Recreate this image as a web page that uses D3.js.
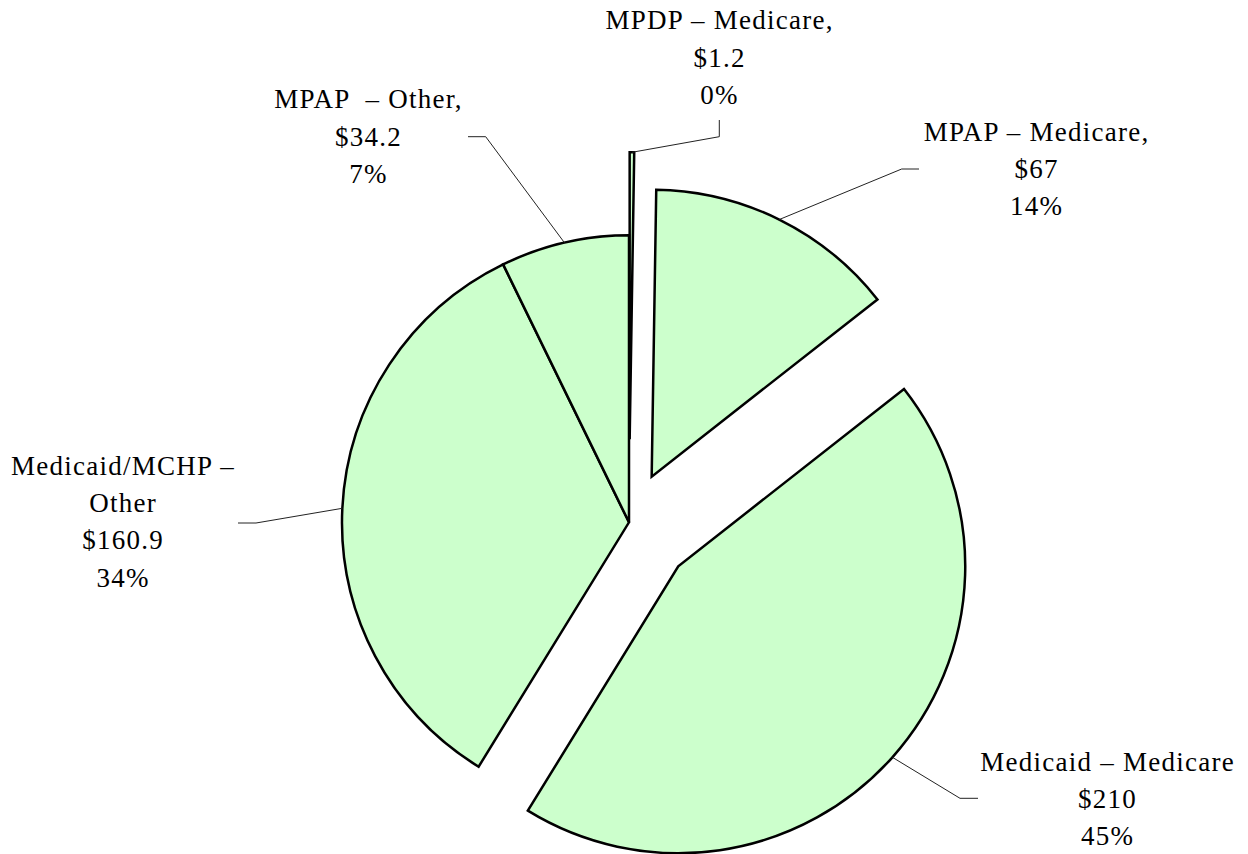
<!DOCTYPE html>
<html>
<head>
<meta charset="utf-8">
<script src="https://cdn.jsdelivr.net/npm/d3@7"></script>
<style>
  html, body { margin: 0; padding: 0; background: #fff; }
  svg { display: block; }
</style>
</head>
<body>
<svg id="chart" width="1248" height="854"></svg>
<script>
// ---- data ----
const categories = ["MPDP – Medicare", "MPAP – Medicare", "Medicaid – Medicare", "Medicaid/MCHP – Other", "MPAP – Other"];
const values = [1.2, 67, 210, 160.9, 34.2];
const nameLines = [["MPDP – Medicare,"], ["MPAP – Medicare,"], ["Medicaid – Medicare"], ["Medicaid/MCHP –", "Other"], ["MPAP  – Other,"]];
const valueLabels = ["$1.2", "$67", "$210", "$160.9", "$34.2"];
const percentLabels = ["0%", "14%", "45%", "34%", "7%"];

// ---- layout ----
const W = 1248, H = 854;
const cx = 629, cy = 522.3, R = 287;
const explode = [83, 51, 66, 0, 0];
const lineGap = 37.2;
const fontFamily = "'Liberation Serif', 'Times New Roman', Times, 'DejaVu Serif', serif";
const labelLayout = [
  { x: 719,   y: 29.3,  elbow: [719.3, 136.7], end: [719.3, 120] },
  { x: 1036,  y: 140.7, elbow: [901.7, 169],   end: [919, 169] },
  { x: 1107,  y: 770.7, elbow: [960, 798.3],   end: [978, 798.3] },
  { x: 122.5, y: 475,   elbow: [256, 523],     end: [238, 523] },
  { x: 368,   y: 108.3, elbow: [485.7, 136.7], end: [468, 136.7] }
];

const svg = d3.select("#chart");
const g = svg.append("g").attr("transform", `translate(${cx},${cy})`);

const pie = d3.pie().sort(null).value(d => d).startAngle(0).endAngle(2 * Math.PI);
const arcs = pie(values);
const arc = d3.arc().innerRadius(0).outerRadius(R);
const edgeArc = d3.arc().innerRadius(R).outerRadius(R);

function offset(d, i) {
  const a = (d.startAngle + d.endAngle) / 2;
  return [Math.sin(a) * explode[i], -Math.cos(a) * explode[i]];
}

// leader lines (behind slices)
const leaders = svg.append("g");
arcs.forEach((d, i) => {
  const [ox, oy] = offset(d, i);
  const c = edgeArc.centroid(d);
  const p0 = [cx + c[0] + ox, cy + c[1] + oy];
  const L = labelLayout[i];
  leaders.append("path")
    .attr("d", d3.line()([p0, L.elbow, L.end]))
    .attr("fill", "none")
    .attr("stroke", "#222")
    .attr("stroke-width", 1);
});

// slices
g.selectAll("path.slice")
  .data(arcs)
  .join("path")
  .attr("class", "slice")
  .attr("transform", (d, i) => { const o = offset(d, i); return `translate(${o[0]},${o[1]})`; })
  .attr("d", arc)
  .attr("fill", "#CCFFCC")
  .attr("stroke", "#000")
  .attr("stroke-width", 2.5)
  .attr("stroke-linejoin", "miter");

// labels
arcs.forEach((d, i) => {
  const L = labelLayout[i];
  const lines = nameLines[i].concat([valueLabels[i], percentLabels[i]]);
  const t = svg.append("text")
    .attr("text-anchor", "middle")
    .attr("font-family", fontFamily)
    .attr("font-size", 27)
    .attr("letter-spacing", "1.25px")
    .attr("fill", "#000")
    .style("white-space", "pre");
  lines.forEach((s, k) => {
    t.append("tspan").attr("x", L.x + 0.6).attr("y", L.y + k * lineGap).text(s);
  });
});
</script>
</body>
</html>
